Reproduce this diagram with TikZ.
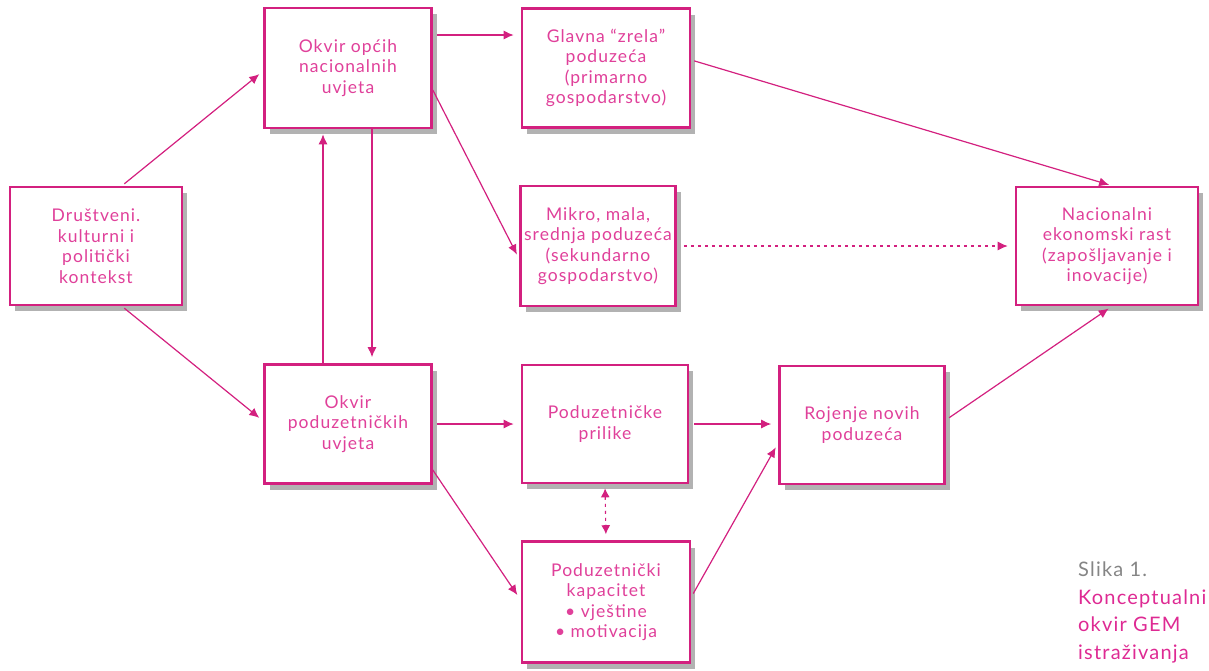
\documentclass[tikz,border=0pt]{standalone}
\usepackage{fontspec}
\setmainfont{Lato}[LetterSpace=6]
\usetikzlibrary{arrows.meta,shadows,calc}
\definecolor{mag}{HTML}{D3207F}
\definecolor{magtxt}{HTML}{E0409A}
\definecolor{capmag}{HTML}{DE2A93}
\definecolor{capgray}{HTML}{858585}
\tikzset{
  box/.style={draw=mag, line width=2.6pt, fill=white, align=center, text=magtxt,
    font=\fontsize{17.5}{20.5}\selectfont, inner sep=1pt,
    drop shadow={shadow xshift=5pt, shadow yshift=-6pt, fill=black!55, opacity=.55}},
  conn/.style={draw=mag, line width=1.2pt, -{Latex[length=10pt,width=9pt]}},
  dconn/.style={draw=mag, line width=1.1pt, dash pattern=on 3pt off 4pt, -{Latex[length=10pt,width=9pt]}},
}
\begin{document}
\begin{tikzpicture}[x=1pt,y=-1pt]
\useasboundingbox (0,0) rectangle (1209,670);
\node[box, minimum width=172pt, minimum height=118pt] (soc) at (96,246) {Društveni.\\kulturni i\\politički\\kontekst};
\node[box, minimum width=167pt, minimum height=120pt] (gen) at (348,68) {Okvir općih\\nacionalnih\\uvjeta};
\node[box, minimum width=168pt, minimum height=119pt] (mat) at (606,68) {Glavna “zrela”\\poduzeća\\(primarno\\gospodarstvo)};
\node[box, minimum width=155pt, minimum height=120pt] (sme) at (598,246) {Mikro, mala,\\srednja poduzeća\\(sekundarno\\gospodarstvo)};
\node[box, minimum width=182pt, minimum height=118pt] (nat) at (1107,246) {Nacionalni\\ekonomski rast\\(zapošljavanje i\\inovacije)};
\node[box, minimum width=167pt, minimum height=119pt] (ent) at (348,424) {Okvir\\poduzetničkih\\uvjeta};
\node[box, minimum width=166pt, minimum height=118pt] (opp) at (605,424) {Poduzetničke\\prilike};
\node[box, minimum width=165pt, minimum height=118pt] (new) at (862,425) {Rojenje novih\\poduzeća};
\node[box, minimum width=168pt, minimum height=121pt] (cap) at (606,602) {Poduzetnički\\kapacitet\\• vještine\\• motivacija};

\draw[conn, shorten <=3pt, shorten >=5pt] ([xshift=26pt]soc.north) -- ([yshift=-3pt]gen.west);
\draw[conn, shorten <=3pt, shorten >=5pt] ([xshift=26pt]soc.south) -- ([yshift=3pt]ent.west);
\draw[conn, shorten <=4pt, shorten >=7pt] ([yshift=33pt]gen.east) -- ([yshift=33pt]mat.west);
\draw[conn, shorten >=5pt] ([yshift=-22pt]gen.east) -- ([yshift=-13pt]sme.west);
\draw[conn, shorten <=3pt, shorten >=3pt] ([yshift=8pt]mat.east) -- ([xshift=5pt]nat.north);
\draw[dconn, shorten <=7pt, shorten >=7pt] (sme.east) -- (nat.west);
\draw[conn, shorten >=5pt] ([xshift=-25pt]ent.north) -- ([xshift=-25pt]gen.south);
\draw[conn, shorten >=6pt] ([xshift=24pt]gen.south) -- ([xshift=24pt]ent.north);
\draw[conn, shorten <=4pt, shorten >=7pt] (ent.east) -- (opp.west);
\draw[conn, shorten >=6pt] ([yshift=-46pt]ent.east) -- ([yshift=2pt]cap.west);
\draw[conn, shorten <=5pt, shorten >=7pt] (opp.east) -- ([yshift=1pt]new.west);
\draw[conn, shorten <=4pt, shorten >=5pt] ([yshift=5pt]cap.east) -- ([yshift=-18pt]new.west);
\draw[conn, shorten <=4pt, shorten >=4pt] ([yshift=5pt]new.east) -- ([xshift=5pt]nat.south);
\draw[dconn, {Latex[length=9pt,width=9pt]}-{Latex[length=9pt,width=9pt]}, shorten <=4pt, shorten >=6pt] (opp.south) -- (cap.north);

\node[anchor=north west, align=left, inner sep=0pt, font=\fontsize{20}{27.5}\selectfont] (capt) at (1078,562)
  {\textcolor{capgray}{Slika 1.}\\\textcolor{capmag}{Konceptualni}\\\textcolor{capmag}{okvir GEM}\\\textcolor{capmag}{istraživanja}};
\end{tikzpicture}
\end{document}
